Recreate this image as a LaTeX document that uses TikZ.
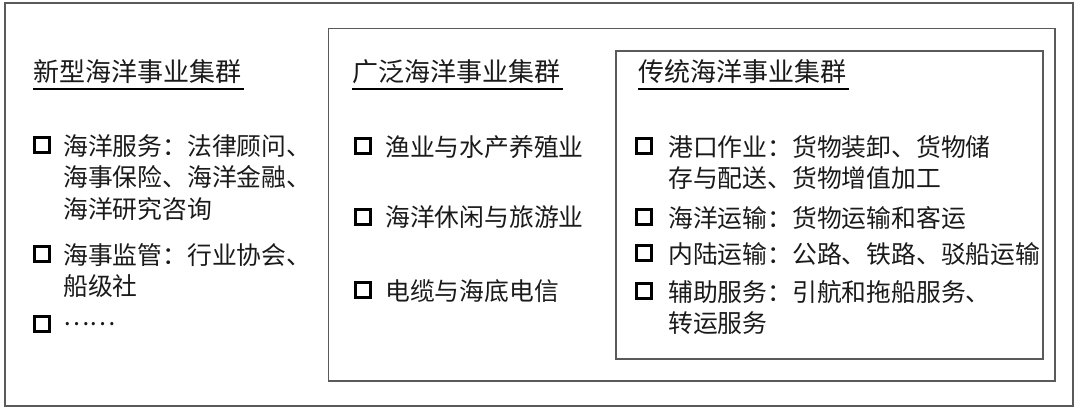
\documentclass[tikz,border=0pt]{standalone}
\usepackage{fontspec}
\setmainfont{Noto Sans CJK SC}
\definecolor{framegray}{HTML}{5A5A5A}
\definecolor{ink}{HTML}{1A1A1A}
\begin{document}
\begin{tikzpicture}[x=1pt,y=-1pt,
  frame/.style={draw=framegray,line width=1.5pt},
  ttl/.style={anchor=base west,inner sep=0pt,text=ink,font=\fontsize{26pt}{30pt}\selectfont},
  uline/.style={draw=black,line width=2.5pt},
  chk/.style={draw=black,line width=3.2pt,minimum size=14.5pt,inner sep=0pt},
  itm/.style={anchor=base west,inner sep=0pt,text=ink,text width=400pt,align=left,font=\fontsize{24.8pt}{31.5pt}\selectfont}]
\useasboundingbox (0,0) rectangle (1080,411);
\draw[frame,line width=2pt] (4.5,3.5) rectangle (1073,406);
\draw[frame] (328.5,28.5) rectangle (1055,381);
\draw[frame] (616,51) rectangle (1043,359);
% titles
\node[ttl] (t1) at (33,82) {新型海洋事业集群};
\node[ttl] (t2) at (352,82) {广泛海洋事业集群};
\node[ttl] (t3) at (638,82) {传统海洋事业集群};
\foreach \t in {t1,t2,t3}
  \draw[uline] ([yshift=-7pt]\t.base west) -- ([yshift=-7pt,xshift=3pt]\t.base east);
% left column
\node[chk] (a1c) at (42,145) {};
\node[itm] (a1) at (63,155.5) {海洋服务：法律顾问、\\海事保险、海洋金融、\\海洋研究咨询};
\node[chk] (a2c) at (42,254) {};
\node[itm] (a2) at (63,264.5) {海事监管：行业协会、\\船级社};
\node[chk] (a3c) at (42,324) {};
\node[itm] (a3) at (63,334.5) {\raisebox{8.5pt}{……}};
% middle column
\node[chk] (b1c) at (363,146) {};
\node[itm] (b1) at (385,156.5) {渔业与水产养殖业};
\node[chk] (b2c) at (363,217) {};
\node[itm] (b2) at (385,227) {海洋休闲与旅游业};
\node[chk] (b3c) at (363,290) {};
\node[itm] (b3) at (385,300.5) {电缆与海底电信};
% right column
\node[chk] (c1c) at (644,146) {};
\node[itm] (c1) at (668,156.5) {港口作业：货物装卸、货物储\\存与配送、货物增值加工};
\node[chk] (c2c) at (644,217) {};
\node[itm] (c2) at (668,227.5) {海洋运输：货物运输和客运};
\node[chk] (c3c) at (644,253) {};
\node[itm] (c3) at (668,263.5) {内陆运输：公路、铁路、驳船运输};
\node[chk] (c4c) at (644,291) {};
\node[itm] (c4) at (668,301.5) {辅助服务：引航和拖船服务、\\转运服务};
\end{tikzpicture}
\end{document}
